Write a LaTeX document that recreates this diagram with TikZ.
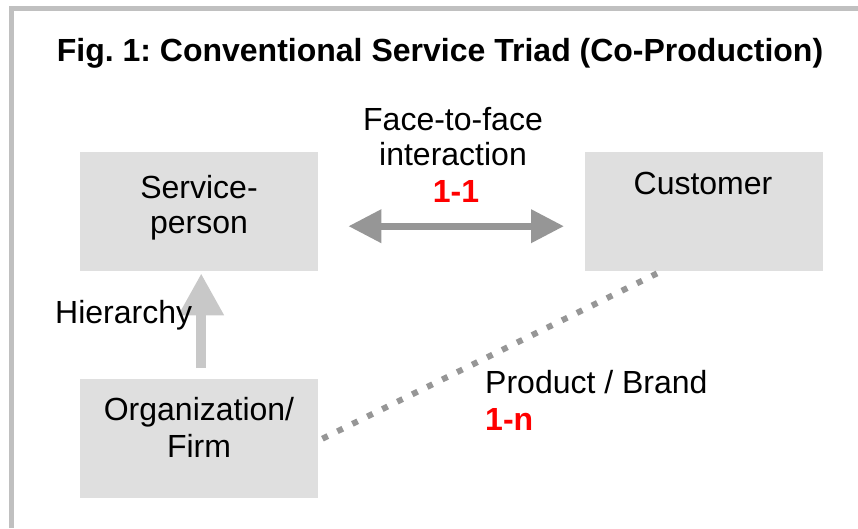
\documentclass[tikz,border=0pt]{standalone}
\usepackage{fontspec}
\setmainfont{Liberation Sans}
\frenchspacing
\usetikzlibrary{arrows.meta,calc}
\definecolor{boxgray}{HTML}{DFDFDF}
\definecolor{framegray}{HTML}{C0C0C0}
\definecolor{arrgray}{HTML}{969696}
\definecolor{hiergray}{HTML}{C8C8C8}
\definecolor{redlbl}{HTML}{FF0000}
\begin{document}
\begin{tikzpicture}[x=1pt,y=-1pt,
  box/.style={fill=boxgray,draw=none,minimum width=238pt,minimum height=119pt,inner sep=0pt,anchor=north west},
  txt/.style={font=\fontsize{32}{36}\selectfont,inner sep=0pt,anchor=base,align=center},
  redtxt/.style={txt,text=redlbl,font=\fontsize{32}{36}\selectfont\bfseries},
  frame/.style={draw=framegray,line width=5pt},
  dbl/.style={draw=arrgray,line width=7pt,{Triangle[length=33pt,width=32pt]}-{Triangle[length=33pt,width=32pt]}},
  hier/.style={draw=hiergray,line width=10pt,-{Triangle[length=42pt,width=43pt]}},
  dots/.style={draw=arrgray,line width=6pt,dash pattern=on 6pt off 10.7pt}]
\useasboundingbox (0,0) rectangle (858,528);
\draw[frame] (11.5,528) -- (11.5,8.5) -- (858,8.5);
\node[txt,font=\fontsize{32}{36}\selectfont\bfseries] (title) at (440,61) {Fig. 1: Conventional Service Triad (Co-Production)};
% boxes
\node[box] (sp) at (80,152) {};
\node[box] (cu) at (585,152) {};
\node[box] (org) at (80,379) {};
% box texts
\node[txt] (sp1) at (199,198) {Service-};
\node[txt] (sp2) at (199,233) {person};
\node[txt] (cut) at (703,194) {Customer};
\node[txt] (org1) at (199,420) {Organization/};
\node[txt] (org2) at (199,457) {Firm};
% connectors
\coordinate (a1) at ($(sp.east)+(30,14.5)$);
\coordinate (a2) at ($(cu.west)+(-21,14.5)$);
\draw[dbl] (a1) -- (a2);
\draw[hier] ([xshift=2pt,yshift=11pt]org.north) -- ([xshift=2pt,yshift=-2pt]sp.south);
\coordinate (d1) at ($(org.east)+(4,0)$);
\coordinate (d2) at ($(cu.south west)+(72,2)$);
\draw[dots] (d1) -- (d2);
% labels
\node[txt] (ftf1) at (453,130) {Face-to-face};
\node[txt] (ftf2) at (453,165) {interaction};
\node[redtxt] (one1) at (456,202) {1-1};
\node[txt,anchor=base west] (hier) at (55,323) {Hierarchy};
\node[txt,anchor=base west] (pb) at (485,393) {Product / Brand};
\node[redtxt,anchor=base west] (onen) at (485,430) {1-n};
\end{tikzpicture}
\end{document}
